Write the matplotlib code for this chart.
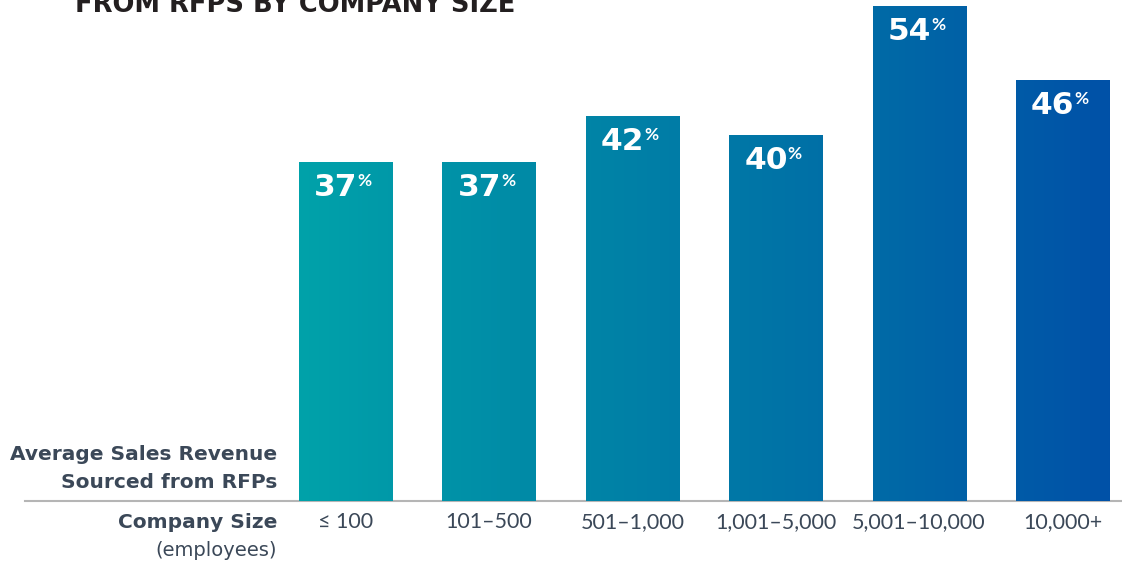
import matplotlib.pyplot as plt
import numpy as np
from matplotlib.colors import LinearSegmentedColormap

sizes = ['≤ 100', '101–500', '501–1,000', '1,001–5,000', '5,001–10,000', '10,000+']
revenue_pct = [37, 37, 42, 40, 54, 46]

title = 'FROM RFPS BY COMPANY SIZE'
ylabel_lines = ['Average Sales Revenue', 'Sourced from RFPs']

text_color = '#3b4858'
grad = LinearSegmentedColormap.from_list('rfp', ['#00a3aa', '#0086a6', '#006ea6', '#0050a8'])

fig = plt.figure(figsize=(11.22, 5.67), dpi=100)
ax = fig.add_axes([25 / 1122, 66 / 567, 1097 / 1122, 501 / 567])

x = np.arange(len(sizes))
bars = ax.bar(x, revenue_pct, width=0.649, color='#0077a6', zorder=2)

# horizontal gradient, clipped to each bar
gradient = np.linspace(0, 1, 256).reshape(1, -1)
for b in bars:
    im = ax.imshow(gradient, cmap=grad, aspect='auto', zorder=3,
                   extent=[-0.4, 5.4, 0, 60], interpolation='bicubic')
    im.set_clip_path(b)
ax.set_xlim(-2.235, 5.415)
ax.set_ylim(0, 501 / 9.16)

for xi, v in zip(x, revenue_pct):
    num = ax.annotate(str(v), xy=(xi, v), xytext=(-7, -8), textcoords='offset points',
                      ha='center', va='top', color='white', fontsize=22.5,
                      fontweight='heavy', family='DejaVu Sans', zorder=5)
    ax.annotate('%', xy=(1, 1), xycoords=num, xytext=(0, 0), textcoords='offset points',
                ha='left', va='top', color='white', fontsize=12.5,
                fontweight='bold', family='Lato', zorder=5)

for s in ['top', 'right', 'left']:
    ax.spines[s].set_visible(False)
ax.spines['bottom'].set_color('#b5b5b5')
ax.spines['bottom'].set_linewidth(1.5)
ax.set_yticks([])
ax.set_xticks(x)
ax.set_xticklabels(sizes, fontsize=15.5, color=text_color, family='Lato')
ax.tick_params(axis='x', length=0, pad=8)

fig.text(277 / 1122, 1 - 455 / 567, ylabel_lines[0], ha='right', va='center',
         fontsize=14.5, fontweight='bold', color=text_color, family='DejaVu Sans')
fig.text(277 / 1122, 1 - 483 / 567, ylabel_lines[1], ha='right', va='center',
         fontsize=14.5, fontweight='bold', color=text_color, family='DejaVu Sans')
fig.text(277 / 1122, 1 - 523 / 567, 'Company Size', ha='right', va='center',
         fontsize=14.5, fontweight='bold', color=text_color, family='DejaVu Sans')
fig.text(277 / 1122, 1 - 551 / 567, '(employees)', ha='right', va='center',
         fontsize=14, color=text_color, family='DejaVu Sans')

fig.text(75 / 1122, 1 - 12 / 567, title, ha='left', va='baseline',
         fontsize=18.5, fontweight='bold', color='#231f20', family='DejaVu Sans')

fig.savefig('out.png', dpi=100)
